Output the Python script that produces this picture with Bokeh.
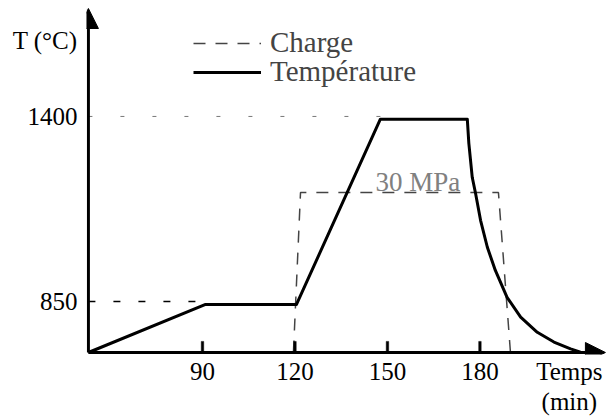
from bokeh.plotting import figure
from bokeh.models import Range1d, FixedTicker, Arrow, NormalHead, Label, Legend, LegendItem, LinearAxis
from bokeh.embed import file_html
from bokeh.resources import INLINE

# ---- data ----
temp_time = [53.0, 91.0, 120.5, 147.7, 175.9, 176.4, 177.5, 178.6, 180.2, 182.4,
             185.0, 188.8, 193.2, 198.6, 204.0, 209.4, 212.6]
temp_value = [698, 841, 841, 1392, 1392, 1320, 1219, 1170, 1091, 1011,
              942, 862, 803, 758, 729, 709, 699]

charge_time = [119.5, 121.8, 186.0, 189.9]
charge_mpa = [0, 30, 30, 0]

x_ticks = [90, 120, 150, 180]
y_ticks = [850, 1400]
x_title_pos = 209      # where "Temps (min)" sits on the time axis
y_title_pos = 1626     # where "T (°C)" sits on the temperature axis

# axis geometry (data units)
axis_t0, axis_T0 = 53.0, 698
axis_t_tip, axis_T_tip = 220.7, 1721
x_start, x_end = 52.38, 221.05
y_start, y_end = 692.05, 1744.8
charge_start, charge_end = -0.375, 66.0
tick_len = 33

FONT = "Liberation Serif"

p = figure(width=606, height=417, x_range=Range1d(x_start, x_end), y_range=Range1d(y_start, y_end),
           output_backend="svg", toolbar_location=None,
           min_border_left=86, min_border_right=0, min_border_top=0, min_border_bottom=63)
p.extra_y_ranges = {"charge": Range1d(charge_start, charge_end)}
p.outline_line_color = None
p.xgrid.visible = False
p.ygrid.visible = False

# axes: Bokeh axes provide the labels
p.xaxis.ticker = FixedTicker(ticks=x_ticks + [x_title_pos])
p.xaxis.major_label_overrides = {x_title_pos: "Temps"}
p.yaxis.ticker = FixedTicker(ticks=y_ticks + [y_title_pos])
p.yaxis.major_label_overrides = {y_title_pos: "T (°C)"}
for ax in (p.xaxis, p.yaxis):
    ax.axis_line_color = None
    ax.major_tick_line_color = None
    ax.minor_tick_line_color = None
    ax.major_tick_in = 0
    ax.major_tick_out = 0
    ax.minor_tick_in = 0
    ax.minor_tick_out = 0
    ax.major_label_text_font = FONT
    ax.major_label_text_font_size = "25px"
    ax.major_label_text_color = "black"
p.xaxis.major_label_standoff = 3
p.yaxis.major_label_standoff = 9

unit_axis = LinearAxis(ticker=FixedTicker(ticks=[x_title_pos]),
                       major_label_overrides={x_title_pos: "(min)"},
                       axis_line_color=None, major_tick_line_color=None, minor_tick_line_color=None,
                       major_tick_in=0, major_tick_out=0, minor_tick_in=0, minor_tick_out=0,
                       major_label_text_font=FONT, major_label_text_font_size="25px",
                       major_label_text_color="black", major_label_standoff=0)
p.add_layout(unit_axis, "below")

# guide lines
p.line([temp_time[0], temp_time[1]], [y_ticks[0], y_ticks[0]],
       line_color="black", line_width=1.5, line_dash="7 18")
p.line([temp_time[0], temp_time[3]], [y_ticks[1], y_ticks[1]],
       line_color="#777777", line_width=1, line_dash="4 28")

# series
r_charge = p.line(charge_time, charge_mpa, y_range_name="charge",
                  line_color="#444444", line_width=1.5, line_dash="12 10")
r_temp = p.line(temp_time, temp_value, line_color="black", line_width=3, line_join="round")

# tick marks on the time axis (thin bars standing on the axis)
p.vbar(x=x_ticks, bottom=axis_T0, top=axis_T0 + tick_len, width=0.8,
       fill_color="black", line_color="black", line_width=0.5)

# axis arrows
p.add_layout(Arrow(end=NormalHead(size=20, fill_color="black", line_color="black"),
                   x_start=axis_t0, y_start=axis_T0, x_end=axis_t_tip, y_end=axis_T0,
                   line_width=3, line_color="black"))
p.add_layout(Arrow(end=NormalHead(size=20, fill_color="black", line_color="black"),
                   x_start=axis_t0, y_start=axis_T0, x_end=axis_t0, y_end=axis_T_tip,
                   line_width=3, line_color="black"))

# legend (one box per entry, for exact row placement)
legend_style = dict(orientation="vertical", background_fill_alpha=0, border_line_alpha=0,
                    padding=0, spacing=0, glyph_width=68, label_standoff=9,
                    label_text_font=FONT, label_text_font_size="29px")
p.add_layout(Legend(items=[LegendItem(label="Charge", renderers=[r_charge])],
                    location=(107, 295), **legend_style))
p.add_layout(Legend(items=[LegendItem(label="Température", renderers=[r_temp])],
                    location=(107, 266), **legend_style))

# charge level annotation
p.add_layout(Label(x=289, y=173, x_units="screen", y_units="screen", text="30 MPa",
                   text_align="left", text_baseline="middle",
                   text_font=FONT, text_font_size="27px", text_color="#808080"))

open("out.html", "w").write(file_html(p, INLINE))
